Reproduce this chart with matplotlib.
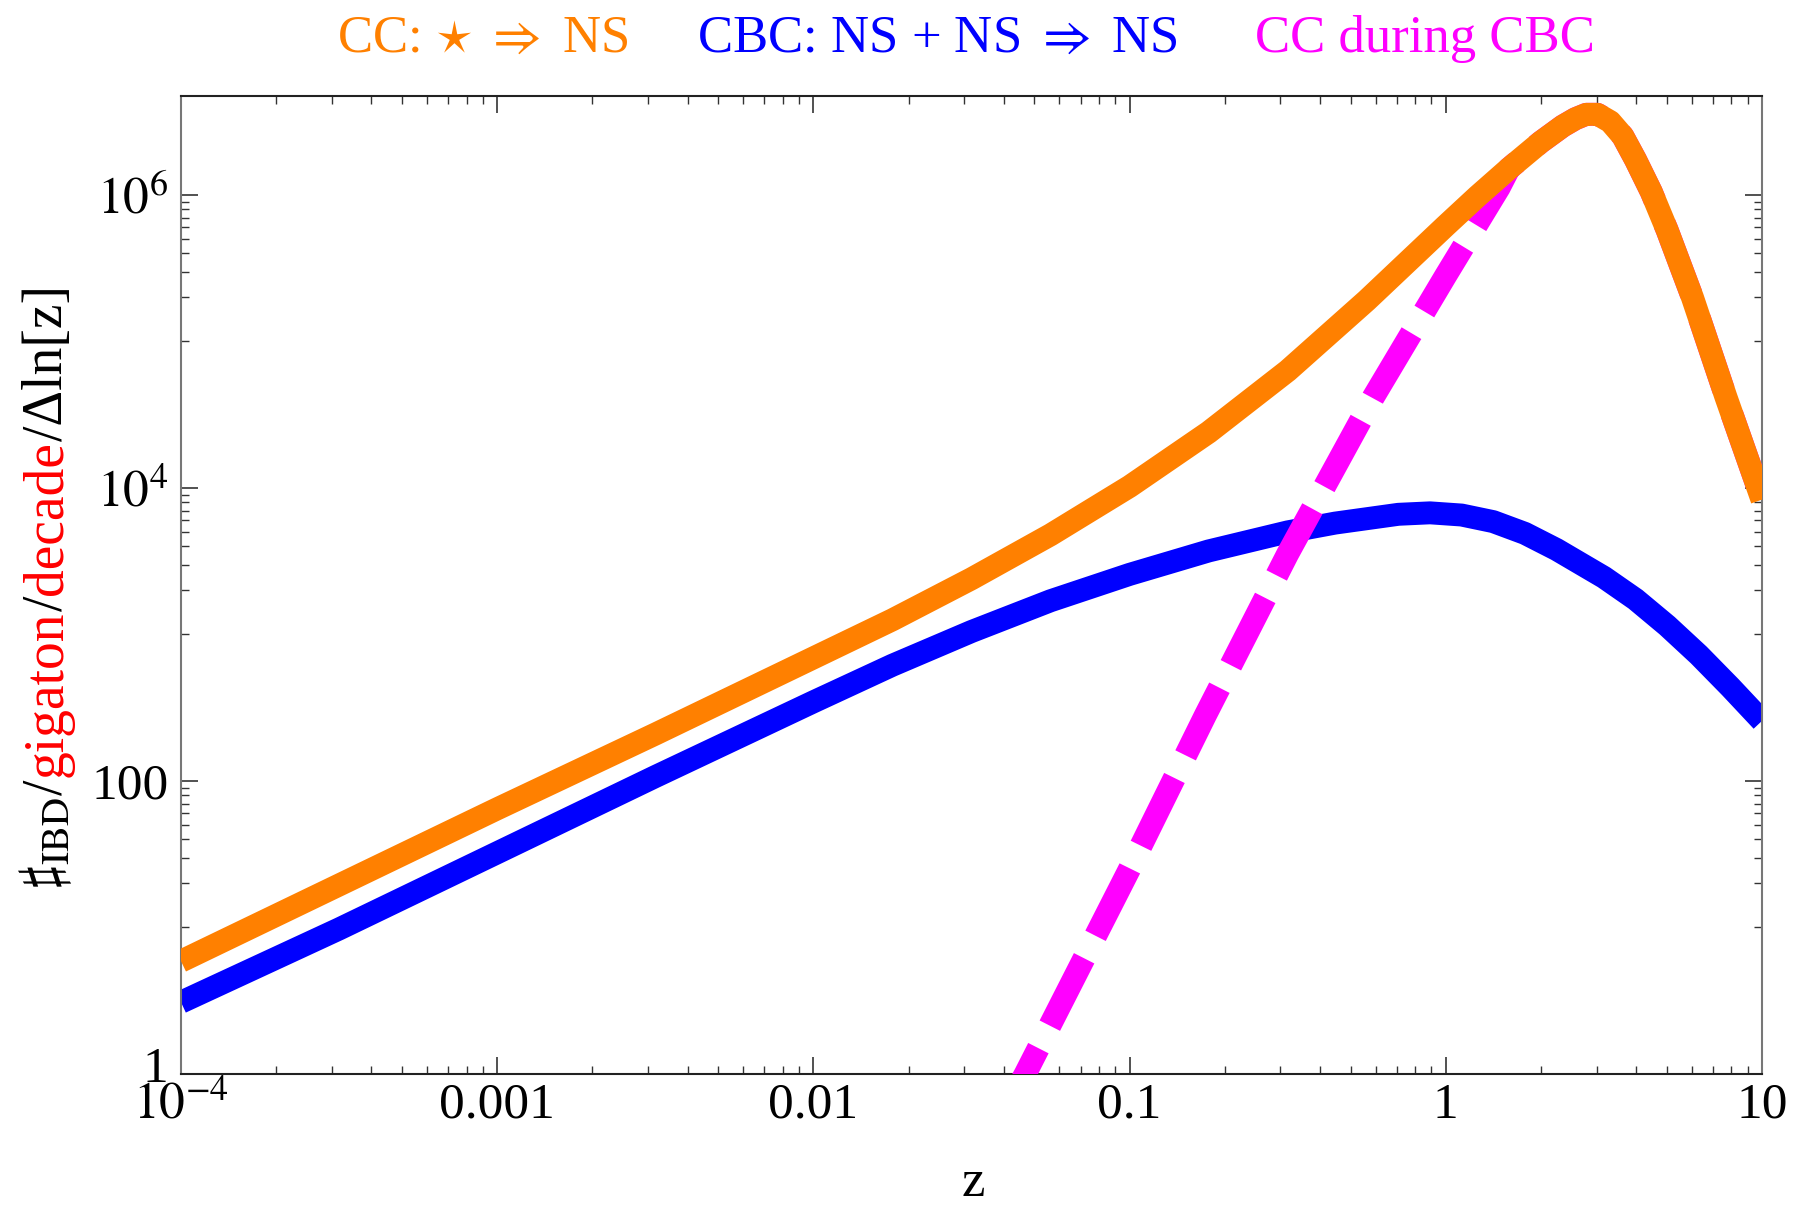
import numpy as np
import matplotlib.pyplot as plt
from matplotlib.ticker import FixedLocator, NullFormatter, LogLocator
from matplotlib.transforms import ScaledTranslation

plt.rcParams['font.family'] = ['Liberation Serif', 'DejaVu Serif']
plt.rcParams['mathtext.fontset'] = 'stix'

# values: log10(z) and log10(number of IBD events)
cc_logz = [-4.0, -3.5, -3.0, -2.5, -2.0, -1.75, -1.5, -1.25, -1.0, -0.75, -0.5, -0.25,
           0.0, 0.1, 0.2, 0.3, 0.37, 0.41, 0.444, 0.48, 0.52, 0.56, 0.60, 0.65, 0.70,
           0.78, 0.886, 1.0]
cc_logn = [0.77, 1.29, 1.81, 2.32, 2.84, 3.10, 3.38, 3.68, 4.01, 4.38, 4.80, 5.28,
           5.79, 5.99, 6.18, 6.36, 6.47, 6.52, 6.55, 6.55, 6.50, 6.40, 6.24, 6.02, 5.76,
           5.30, 4.62, 3.92]

cbc_logz = [-4.0, -3.5, -3.0, -2.5, -2.0, -1.75, -1.5, -1.25, -1.0, -0.75, -0.5, -0.35,
            -0.25, -0.15, -0.05, 0.05, 0.15, 0.25, 0.35, 0.5, 0.6, 0.7, 0.8, 0.9, 1.0]
cbc_logn = [0.49, 0.99, 1.51, 2.03, 2.54, 2.79, 3.02, 3.23, 3.41, 3.57, 3.70, 3.76,
            3.79, 3.82, 3.83, 3.815, 3.77, 3.69, 3.58, 3.39, 3.24, 3.06, 2.86, 2.64, 2.41]

mix_logz = [-1.40, -1.33, -1.0, -0.76, -0.5, -0.229, 0.0, 0.169, 0.2, 0.3, 0.37, 0.41,
            0.444, 0.48, 0.52, 0.56, 0.60, 0.65, 0.70, 0.78, 0.886, 1.0]
mix_logn = [-0.28, 0.0, 1.40, 2.45, 3.55, 4.62, 5.45, 6.05, 6.18, 6.36, 6.47, 6.52,
            6.55, 6.55, 6.50, 6.40, 6.24, 6.02, 5.76, 5.30, 4.62, 3.92]

z_ticks = [1e-4, 1e-3, 1e-2, 1e-1, 1, 10]
z_labels = [r'$10^{-4}$', '0.001', '0.01', '0.1', '1', '10']
n_ticks = [1, 100, 1e4, 1e6]
n_labels = ['1', '100', r'$10^4$', r'$10^6$']
n_minor = [k * 10.0**e for e in (1, 3, 5) for k in range(1, 10)]

legend_texts = [r'CC: $\star$ $\Rightarrow$ NS', r'CBC: NS + NS $\Rightarrow$ NS', 'CC during CBC']
legend_colors = ['#ff8000', '#0000ff', '#ff00ff']

W, H = 1798, 1207
fig = plt.figure(figsize=(W / 100, H / 100), dpi=100)
ax = fig.add_axes([181 / W, 1 - 1074 / H, (1762 - 181) / W, (1074 - 96) / H])
ax.set_xscale('log')
ax.set_yscale('log')

lw = 16.5
ax.plot(10**np.array(cbc_logz), 10**np.array(cbc_logn), color='#0000ff', lw=lw,
        solid_capstyle='butt', solid_joinstyle='round', zorder=2)
ax.plot(10**np.array(mix_logz), 10**np.array(mix_logn), color='#ff00ff', lw=lw,
        dashes=(3.3, 1.1), dash_capstyle='butt', dash_joinstyle='round', zorder=3)
ax.plot(10**np.array(cc_logz), 10**np.array(cc_logn), color='#ff8000', lw=lw,
        solid_capstyle='butt', solid_joinstyle='round', zorder=4)

ax.set_xlim(1e-4, 10)
ax.set_ylim(1, 10**6.675)

ax.xaxis.set_major_locator(FixedLocator(z_ticks))
ax.set_xticklabels(z_labels)
ax.xaxis.set_minor_locator(LogLocator(base=10, subs=np.arange(2, 10)))
ax.xaxis.set_minor_formatter(NullFormatter())
ax.yaxis.set_major_locator(FixedLocator(n_ticks))
ax.set_yticklabels(n_labels)
ax.yaxis.set_minor_locator(FixedLocator(n_minor))
ax.yaxis.set_minor_formatter(NullFormatter())

ax.tick_params(which='both', direction='in', top=True, right=True, labelsize=37,
               color='#333333')
ax.tick_params(which='major', length=12, width=1.2)
ax.tick_params(which='minor', length=6, width=1.0)
ax.tick_params(axis='x', pad=6)
ax.tick_params(axis='y', pad=9)
for side in ['left', 'right']:
    ax.spines[side].set_color('#777777')
for side in ['top', 'bottom']:
    ax.spines[side].set_color('#222222')
for s in ax.spines.values():
    s.set_linewidth(1.5)

fig.text(973 / W, 1 - 1196 / H, 'z', fontsize=38, ha='center', va='baseline')

for txt, col, xc in zip(legend_texts, legend_colors, [483, 937, 1425]):
    fig.text(xc / W, 1 - 52 / H, txt, color=col, fontsize=38, ha='center', va='baseline')

fig.canvas.draw()
# the "1" on the y axis sits a bit above its tick, as in the original
lab1 = ax.yaxis.get_major_ticks()[0].label1
lab1.set_transform(lab1.get_transform() + ScaledTranslation(0, 10 / 100, fig.dpi_scale_trans))

# y label in several colours, stacked bottom to top
pieces = [(r'$\sharp_{\mathrm{IBD}}$/', 'black'), ('gigaton', 'red'), ('/', 'black'),
          ('decade', 'red'), ('/Δln[z]', 'black')]
renderer = fig.canvas.get_renderer()
texts = []
lengths = []
for s, c in pieces:
    t = fig.text(62 / W, 0, s, color=c, fontsize=40, rotation=90,
                 rotation_mode='anchor', ha='left', va='baseline')
    texts.append(t)
    lengths.append(t.get_window_extent(renderer).height / H)
y = (1 - 587 / H) - sum(lengths) / 2
for t, L in zip(texts, lengths):
    t.set_y(y)
    y += L

fig.savefig('out.png', dpi=100)
